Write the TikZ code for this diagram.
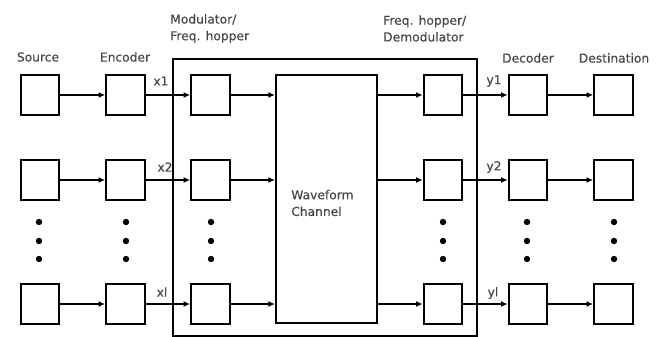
\documentclass[tikz,border=0pt]{standalone}
\usepackage{fontspec}
\setmainfont{DejaVu Sans}
\newfontfamily\lblfont[FakeBold=0.4]{DejaVu Sans}
\usetikzlibrary{arrows.meta}
\begin{document}
\begin{tikzpicture}[x=0.75pt,y=-0.75pt,
  blk/.style={draw=black,line width=1.5pt,minimum width=29pt,minimum height=29.5pt,inner sep=0pt},
  conn/.style={line width=1.5pt,-{Latex[length=5pt,width=4.5pt]}},
  lbl/.style={font=\lblfont\fontsize{9.2}{12.5}\selectfont,text=black!72,inner sep=0pt},
  dot/.style={circle,fill=black,inner sep=0pt,minimum size=4.8pt}]
\useasboundingbox (0,0) rectangle (660,336);
% outer frame
\draw[line width=1.5pt] (173,336.3) -- (173,59) -- (477,59) -- (477,336.3) -- cycle;
% waveform channel
\node[draw=black,line width=1.5pt,minimum width=75.75pt,minimum height=186pt,inner sep=0pt] (wc) at (326.5,199) {};
\node[lbl,align=left,anchor=west] (wct) at (291,203) {Waveform\\Channel};
% columns
\foreach \r/\y in {1/95,2/180,3/304}{
  \node[blk] (s\r) at (40,\y) {};
  \node[blk] (e\r) at (125.5,\y) {};
  \node[blk] (m\r) at (210.5,\y) {};
  \node[blk] (d\r) at (443,\y) {};
  \node[blk] (c\r) at (528,\y) {};
  \node[blk] (t\r) at (613.5,\y) {};
  \coordinate (wl\r) at (wc.west |- s\r);
  \coordinate (wr\r) at (wc.east |- s\r);
  \draw[conn] (s\r) -- (e\r);
  \draw[conn] (e\r) -- (m\r);
  \draw[conn] (m\r) -- (wl\r);
  \draw[conn] (wr\r) -- (d\r);
  \draw[conn] (d\r) -- (c\r);
  \draw[conn] (c\r) -- (t\r);
}
% dots
\foreach \x/\n in {39/a,126/b,211/c,443/d,527/e,614/f}{
  \foreach \y/\k in {222/1,241/2,259/3}{
    \node[dot] (dot\n\k) at (\x,\y) {};
  }
}
% labels
\node[lbl] (ls) at (38,57) {Source};
\node[lbl] (le) at (125,57) {Encoder};
\node[lbl,align=left,anchor=west] (lm) at (170,28.5) {Modulator/\\Freq. hopper};
\node[lbl,align=left,anchor=west] (ld) at (383,28.5) {Freq. hopper/\\Demodulator};
\node[lbl] (lc) at (528,58) {Decoder};
\node[lbl] (lt) at (614,58) {Destination};
\node[lbl] (x1) at (161,81) {x1};
\node[lbl] (x2) at (165,167) {x2};
\node[lbl] (xl) at (162,292) {xl};
\node[lbl] (y1) at (494,81) {y1};
\node[lbl] (y2) at (494,167) {y2};
\node[lbl] (yl) at (493,293) {yl};
\end{tikzpicture}
\end{document}
